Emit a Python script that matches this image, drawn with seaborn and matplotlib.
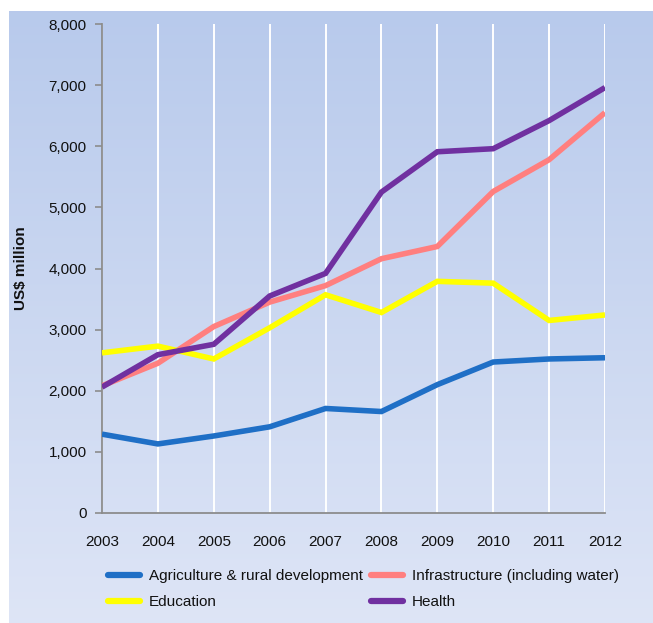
import numpy as np
import pandas as pd
import matplotlib
matplotlib.use("Agg")
import matplotlib.pyplot as plt
import seaborn as sns

# data (US$ million)
years = [2003, 2004, 2005, 2006, 2007, 2008, 2009, 2010, 2011, 2012]
agriculture = [1290, 1130, 1260, 1410, 1710, 1660, 2100, 2470, 2520, 2540]
infrastructure = [2080, 2450, 3050, 3450, 3720, 4160, 4360, 5260, 5780, 6550]
education = [2620, 2730, 2520, 3030, 3570, 3280, 3790, 3760, 3150, 3240]
health = [2060, 2590, 2760, 3550, 3920, 5250, 5910, 5960, 6420, 6960]

series_names = ["Agriculture & rural development", "Infrastructure (including water)",
                "Education", "Health"]
series_colors = ["#1F6FC6", "#FF7F7F", "#FFFF00", "#7030A0"]

df = pd.DataFrame({
    "year": years * 4,
    "value": agriculture + infrastructure + education + health,
    "sector": sum([[n] * len(years) for n in series_names], []),
})

sns.set_style("white")
plt.rcParams["font.family"] = ["Liberation Sans", "DejaVu Sans"]

W, H = 653, 623
fig = plt.figure(figsize=(W / 100, H / 100), dpi=100)

# gradient background panel
bg = fig.add_axes([9 / W, 0, (W - 9) / W, (H - 11) / H])
top = np.array([0.722, 0.792, 0.925])
bot = np.array([0.870, 0.898, 0.965])
t = np.linspace(0, 1, 256)[:, None]
grad = top[None, :] * (1 - t) + bot[None, :] * t
bg.imshow(grad[:, None, :], aspect="auto", extent=[0, 1, 0, 1])
bg.set_axis_off()

ax = fig.add_axes([102 / W, 1 - 513 / H, (605 - 102) / W, (513 - 24) / H])
ax.patch.set_alpha(0)

sns.lineplot(data=df, x="year", y="value", hue="sector", palette=series_colors,
             hue_order=series_names, linewidth=4.0, ax=ax, legend=False,
             zorder=3)
for ln in ax.get_lines():
    ln.set_solid_joinstyle("miter")
    ln.set_solid_capstyle("butt")

ax.set_xlim(2003, 2012)
ax.set_ylim(0, 8000)
ax.set_xticks(years)
ax.set_yticks(range(0, 8001, 1000))
ax.set_yticklabels([f"{v:,}" for v in range(0, 8001, 1000)])
ax.xaxis.grid(True, color="white", linewidth=1.4)
ax.yaxis.grid(False)
ax.set_axisbelow(True)

for s in ["top", "right"]:
    ax.spines[s].set_visible(False)
for s in ["left", "bottom"]:
    ax.spines[s].set_color("#8C8C8C")
    ax.spines[s].set_linewidth(1.3)

ax.tick_params(axis="y", which="both", left=True, length=5, width=1.2,
               color="#8C8C8C", labelsize=11, pad=6, labelcolor="#111111")
ax.tick_params(axis="x", bottom=False, labelsize=11, pad=12, labelcolor="#111111")
ax.set_xlabel("")
ax.set_ylabel("US$ million", fontsize=11, fontweight="bold", color="#111111")
ax.yaxis.set_label_coords((28 - 102) / 503, 0.5)

handles = [plt.Line2D([], [], color=c, linewidth=4.5, solid_capstyle="round")
           for c in series_colors]
order = [0, 2, 1, 3]
fig.legend([handles[i] for i in order], [series_names[i] for i in order],
           ncol=2, loc="upper left", bbox_to_anchor=(108 / W, 1 - 569 / H),
           frameon=False, fontsize=11, handlelength=2.1, handletextpad=0.6,
           columnspacing=0.5, labelspacing=0.8, borderpad=0, borderaxespad=0,
           labelcolor="#111111")

fig.savefig("out.png", dpi=100)
